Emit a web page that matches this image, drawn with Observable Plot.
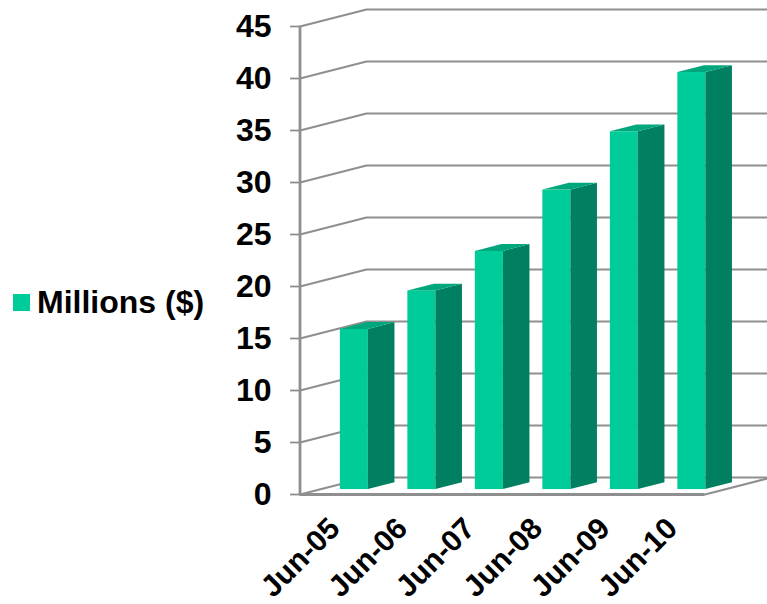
<!DOCTYPE html>
<html>
<head>
<meta charset="utf-8">
<script src="https://cdn.jsdelivr.net/npm/d3@7"></script>
<script src="https://cdn.jsdelivr.net/npm/@observablehq/plot@0.6"></script>
<style>
  html, body { margin: 0; padding: 0; background: #fff; overflow: hidden; }
  #chart { position: relative; width: 767px; height: 604px; display: flex; align-items: center;
           font-family: "Liberation Sans", Arial, sans-serif; }
  #legend { width: 220px; flex: none; display: flex; align-items: center; font-size: 32px; font-weight: bold; color: #000; box-sizing: border-box; padding-left: 13px; }
  #legend i { width: 17px; height: 17px; background: #00cc99; margin-right: 7px; display: block; }
  #plot { flex: none; width: 547px; height: 604px; }
  #plot svg { display: block; }
</style>
</head>
<body>
<div id="chart">
  <div id="legend"><i></i><span>Millions ($)</span></div>
  <div id="plot"></div>
</div>
<script>
// Series
const periods = ["Jun-05", "Jun-06", "Jun-07", "Jun-08", "Jun-09", "Jun-10"];
const millions = [15.4, 19.1, 22.9, 28.8, 34.4, 40.1];
const valueTicks = [0, 5, 10, 15, 20, 25, 30, 35, 40, 45];
const categoryEdges = [0, 1, 2, 3, 4, 5, 6];

// Oblique projection: one unit of depth shifts a point along both data axes
const depthX = 0.985;
const depthY = 1.635;
const px = (slot, depth) => slot + depth * depthX;
const py = (value, depth) => value + depth * depthY;

// Bars occupy part of the depth and part of each category slot
const barNear = 0.31;
const barFar = 0.71;
const barWidth = 0.415;
const left = (i) => i + 0.5 - barWidth / 2;
const right = (i) => i + 0.5 + barWidth / 2;

const bars = periods.map((period, i) => ({period, value: millions[i], i}));
const sideFaces = bars.flatMap((b) => [barNear, barFar].map((depth) => ({...b, depth})));

// Back wall and floor: each gridline runs up the side wall, then along the back
const gridlines = valueTicks.flatMap((v) => [
  {v, x: px(0, 0), y: py(v, 0)},
  {v, x: px(0, 1), y: py(v, 1)},
  {v, x: px(6, 1), y: py(v, 1)}
]);
const floorEdge = [
  {x: px(6, 0), y: py(0, 0)},
  {x: px(6, 1), y: py(0, 1)}
];

const gray = "#8f8f8f";
const front = "#00cc99";
const side = "#008060";
const top_ = "#00a67c";

const plot = Plot.plot({
  width: 547,
  height: 604,
  marginLeft: 80,
  marginRight: 0,
  marginTop: 0,
  marginBottom: 0,
  style: {fontFamily: '"Liberation Sans", Arial, sans-serif', background: "#fff", overflow: "hidden"},
  x: {type: "linear", domain: [0, 6], range: [79.5, 484.5], axis: null},
  y: {type: "linear", domain: [0, 45], range: [494, 26], axis: null},
  marks: [
    Plot.line(gridlines, {x: "x", y: "y", z: "v", stroke: gray, strokeWidth: 2.2, curve: "linear"}),
    Plot.line(floorEdge, {x: "x", y: "y", stroke: gray, strokeWidth: 2.2}),

    // Bars: front, right side and top faces
    Plot.rect(bars, {
      x1: (d) => px(left(d.i), barNear),
      x2: (d) => px(right(d.i), barNear),
      y1: () => py(0, barNear - 0.02),
      y2: (d) => py(d.value, barNear - 0.02),
      fill: front
    }),
    Plot.areaY(sideFaces, {
      x: (d) => px(right(d.i), d.depth),
      y1: (d) => py(0, d.depth - 0.02),
      y2: (d) => py(d.value, d.depth - 0.02),
      z: "period",
      fill: side,
      curve: "linear"
    }),
    Plot.areaX(sideFaces, {
      y: (d) => py(d.value, d.depth - 0.02),
      x1: (d) => px(left(d.i), d.depth),
      x2: (d) => px(right(d.i), d.depth),
      z: "period",
      fill: top_,
      curve: "linear"
    }),

    // Front axes
    Plot.ruleX([0], {y1: 0, y2: 45, stroke: gray, strokeWidth: 2.8}),
    Plot.ruleY([0], {x1: 0, x2: 6, stroke: gray, strokeWidth: 2.8}),
    Plot.axisY({
      ticks: valueTicks,
      anchor: "left",
      tickSize: 10,
      tickPadding: 19,
      label: null,
      stroke: gray,
      fill: "#000",
      strokeWidth: 1.8,
      fontSize: 32,
      fontWeight: "bold"
    }),
    Plot.axisX({
      ticks: categoryEdges,
      anchor: "bottom",
      tickSize: 9,
      tickFormat: () => "",
      label: null,
      stroke: gray,
      strokeWidth: 2
    }),
    Plot.text(periods, {
      x: (d, i) => i + 0.5,
      y: () => 0,
      text: (d) => d,
      rotate: -45,
      textAnchor: "end",
      dy: 29,
      dx: 1,
      fontSize: 30,
      fontWeight: "bold",
      fill: "#000"
    })
  ]
});
document.getElementById("plot").appendChild(plot);
</script>
</body>
</html>
